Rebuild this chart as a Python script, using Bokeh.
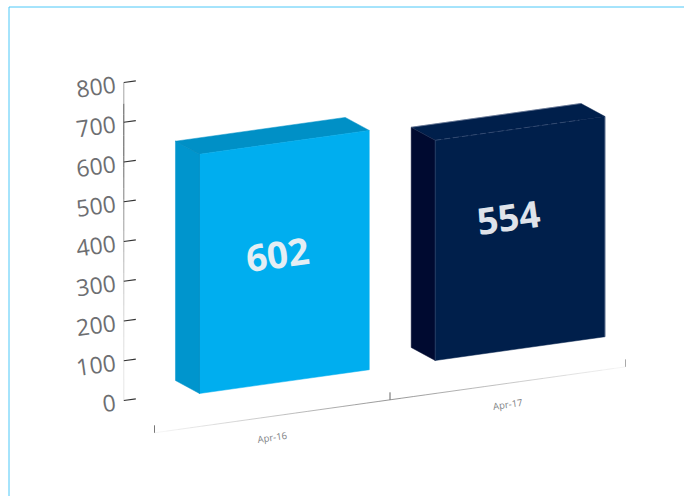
from bokeh.plotting import figure
from bokeh.models import Range1d
from bokeh.core.properties import value
from bokeh.embed import file_html
from bokeh.resources import INLINE
import math

# ---- data ----
categories = ["Apr-16", "Apr-17"]
series_values = [602, 554]
value_ticks = [0, 100, 200, 300, 400, 500, 600, 700, 800]
label_heights = [322, 334]      # value height where each bar label sits
label_positions = [0.522, 1.503]  # category position of each bar label

# ---- style ----
front_colors = ["#00aeef", "#001f4b"]
side_colors = ["#0095cd", "#000a30"]
top_colors = ["#0090c6", "#001f4b"]
fold_colors = ["#0088bb", "#2b4368"]
label_colors = ["#e4eef4", "#dfe3ea"]

# ---- oblique projection: category position, value -> plotted x, y ----
PX_PER_CAT = 235.5
PX_PER_VAL = 0.3975
ORIGIN_X = 154.0
FRONT_BASE_PX = 393.0
U0 = 0.191
SLOPE = 0.14
SHEAR = SLOPE * PX_PER_CAT / PX_PER_VAL
DEPTH_U = 24.0 / PX_PER_CAT
DEPTH_V = 13.0 / PX_PER_VAL
BAR_W = 0.721
BAR_LEFT = [0.191, 1.192]
ANGLE = math.atan(SLOPE)


def px(u, v, depth=0.0):
    return u - depth * DEPTH_U, v + SHEAR * (u - U0) + depth * DEPTH_V


W, H = 684, 496
p = figure(
    width=W, height=H, output_backend="svg", toolbar_location=None,
    x_range=Range1d((0 - ORIGIN_X) / PX_PER_CAT, (W - ORIGIN_X) / PX_PER_CAT),
    y_range=Range1d((FRONT_BASE_PX - H) / PX_PER_VAL, FRONT_BASE_PX / PX_PER_VAL),
    min_border=0, outline_line_color=None, background_fill_color="white",
    border_fill_color="white",
)
p.styles = {"position": "absolute", "left": "0px", "top": "0px"}
p.axis.visible = False
p.grid.visible = False

# page frame: open on the right and at the bottom
fx = [(8.5 - ORIGIN_X) / PX_PER_CAT, (8.5 - ORIGIN_X) / PX_PER_CAT, (W - ORIGIN_X) / PX_PER_CAT]
fy = [(FRONT_BASE_PX - H) / PX_PER_VAL, (FRONT_BASE_PX - 6.5) / PX_PER_VAL, (FRONT_BASE_PX - 6.5) / PX_PER_VAL]
p.line(fx, fy, line_color="#4cc8f8", line_width=1)

# value axis
AX_U = (123.3 - ORIGIN_X) / PX_PER_CAT
AX_OFF = 9.0
TICK_DU = 12.0 / PX_PER_CAT
N = 30
for i in range(N):
    a = value_ticks[0] + (value_ticks[-1] - value_ticks[0]) * i / N
    b = value_ticks[0] + (value_ticks[-1] - value_ticks[0]) * (i + 1) / N
    t = (a + b) / 2 / value_ticks[-1]
    alpha = min(0.85, 0.12 + 1.2 * t * t) if t < 0.93 else 0.45
    x0, y0 = px(AX_U, a)
    x1, y1 = px(AX_U, b)
    p.line([x0, x1], [y0 + AX_OFF, y1 + AX_OFF], line_color="#333333", line_alpha=alpha, line_width=1)

for tv in value_ticks:
    x0, y0 = px(AX_U, tv)
    x1, y1 = px(AX_U + TICK_DU, tv)
    p.line([x0, x1], [y0 + AX_OFF, y1 + AX_OFF], line_color="#333333", line_width=1.1)

lab_u = (115.0 - ORIGIN_X) / PX_PER_CAT
lx = [px(lab_u, tv)[0] for tv in value_ticks]
ly = [px(lab_u, tv)[1] + 8.3 for tv in value_ticks]
p.text(lx, ly, text=[str(t) for t in value_ticks], text_font=value("Open Sans"),
       text_font_size=value("23px"), text_color="#6d6e71", text_align="right",
       text_baseline="middle", angle=ANGLE)

# category axis
CAT_OFF = -33.0 / PX_PER_VAL
M = 40
cat_n = len(categories)
for i in range(M):
    a = cat_n * i / M
    b = cat_n * (i + 1) / M
    t = (a + b) / 2 / cat_n
    alpha = max(0.06, 0.62 - 1.15 * abs(t - 0.5))
    x0, y0 = px(a, CAT_OFF)
    x1, y1 = px(b, CAT_OFF)
    p.line([x0, x1], [y0, y1], line_color="#555555", line_alpha=alpha, line_width=1)

for k, col in zip(range(cat_n + 1), ["#777777", "#666666", "#aaaaaa"]):
    x0, y0 = px(k, CAT_OFF)
    p.line([x0, x0], [y0, y0 + 7.5 / PX_PER_VAL], line_color=col, line_width=1)

cx = [px(k + 0.5, CAT_OFF)[0] for k in range(cat_n)]
cy = [px(k + 0.5, CAT_OFF)[1] - 53.0 for k in range(cat_n)]
p.text(cx, cy, text=categories, text_font=value("Open Sans"), text_font_size=value("9.5px"),
       text_color="#808285", text_align="center", text_baseline="middle", angle=ANGLE)

# bars
for i, val in enumerate(series_values):
    l, r = BAR_LEFT[i], BAR_LEFT[i] + BAR_W
    a = px(l, 0); b = px(r, 0); c = px(r, val); d = px(l, val)
    a2 = px(l, 0, 1); c2 = px(r, val, 1); d2 = px(l, val, 1)
    # top
    xs, ys = zip(d, c, c2, d2)
    p.patch(list(xs), list(ys), fill_color=top_colors[i], line_color=top_colors[i], line_width=0.5)
    # side
    xs, ys = zip(a, d, d2, a2)
    p.patch(list(xs), list(ys), fill_color=side_colors[i], line_color=side_colors[i], line_width=0.5)
    # front
    xs, ys = zip(a, b, c, d)
    p.patch(list(xs), list(ys), fill_color=front_colors[i], line_color=front_colors[i], line_width=0.5)
    # fold lines
    p.line([a[0], d[0]], [a[1], d[1]], line_color=fold_colors[i], line_width=0.7)
    p.line([d[0], d2[0]], [d[1], d2[1]], line_color=fold_colors[i], line_width=0.5)
    if i == 1:
        e = px(l + 0.85 * BAR_W, val)
        p.line([d[0], e[0]], [d[1], e[1]], line_color="#4a6085", line_width=0.6, line_dash="6 3")
        p.line([b[0], c[0]], [b[1], c[1]], line_color="#8d9bb3", line_width=0.7)
        p.line([d2[0], c2[0]], [d2[1], c2[1]], line_color="#7f8da8", line_width=0.6)
    # value label
    lu = label_positions[i]
    lxv, lyv = px(lu, label_heights[i])
    p.text([lxv], [lyv], text=[str(val)], text_font=value("Open Sans"), text_font_style="bold",
           text_font_size=value("37px"), text_color=label_colors[i], text_align="center",
           text_baseline="middle", angle=ANGLE)

open("out.html", "w").write(file_html(p, INLINE))
